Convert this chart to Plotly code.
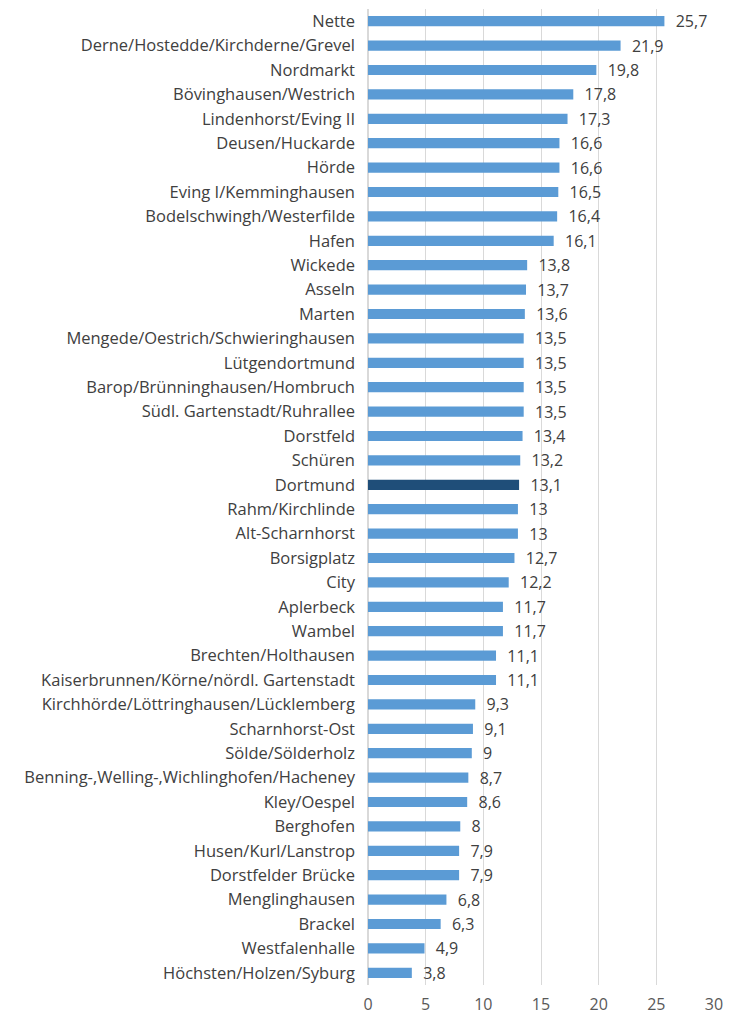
import plotly.graph_objects as go

districts = [
    "Nette", "Derne/Hostedde/Kirchderne/Grevel", "Nordmarkt", "Bövinghausen/Westrich",
    "Lindenhorst/Eving II", "Deusen/Huckarde", "Hörde", "Eving I/Kemminghausen",
    "Bodelschwingh/Westerfilde", "Hafen", "Wickede", "Asseln", "Marten",
    "Mengede/Oestrich/Schwieringhausen", "Lütgendortmund", "Barop/Brünninghausen/Hombruch",
    "Südl. Gartenstadt/Ruhrallee", "Dorstfeld", "Schüren", "Dortmund", "Rahm/Kirchlinde",
    "Alt-Scharnhorst", "Borsigplatz", "City", "Aplerbeck", "Wambel", "Brechten/Holthausen",
    "Kaiserbrunnen/Körne/nördl. Gartenstadt", "Kirchhörde/Löttringhausen/Lücklemberg",
    "Scharnhorst-Ost", "Sölde/Sölderholz", "Benning-,Welling-,Wichlinghofen/Hacheney",
    "Kley/Oespel", "Berghofen", "Husen/Kurl/Lanstrop", "Dorstfelder Brücke",
    "Menglinghausen", "Brackel", "Westfalenhalle", "Höchsten/Holzen/Syburg",
]
values = [
    25.7, 21.9, 19.8, 17.8, 17.3, 16.6, 16.6, 16.5, 16.4, 16.1, 13.8, 13.7, 13.6,
    13.5, 13.5, 13.5, 13.5, 13.4, 13.2, 13.1, 13.0, 13.0, 12.7, 12.2, 11.7, 11.7,
    11.1, 11.1, 9.3, 9.1, 9.0, 8.7, 8.6, 8.0, 7.9, 7.9, 6.8, 6.3, 4.9, 3.8,
]
highlight = "Dortmund"

labels = ["  " + f"{v:g}".replace(".", ",") for v in values]
colors = ["#1F4E79" if d == highlight else "#5B9BD5" for d in districts]

fig = go.Figure(go.Bar(
    x=values,
    y=districts,
    orientation="h",
    marker=dict(color=colors, line=dict(width=0)),
    text=labels,
    textposition="outside",
    constraintext="none",
    textfont=dict(size=16, color="#404040"),
    cliponaxis=False,
))

fig.update_layout(
    width=729,
    height=1016,
    margin=dict(l=368, r=15, t=9, b=31, autoexpand=False),
    paper_bgcolor="white",
    plot_bgcolor="white",
    bargap=0.58,
    showlegend=False,
    font=dict(family="Open Sans, Noto Sans, sans-serif", size=16, color="#404040"),
    xaxis=dict(
        range=[0, 30],
        tickvals=[0, 5, 10, 15, 20, 25, 30],
        showgrid=True,
        gridcolor="#D9D9D9",
        gridwidth=1,
        zeroline=True,
        zerolinecolor="#D9D9D9",
        showline=False,
        automargin=False,
        tickfont=dict(size=16, color="#595959"),
        ticks="",
        ticklabelstandoff=8,
    ),
    yaxis=dict(
        autorange="reversed",
        showgrid=False,
        automargin=False,
        ticks="",
        ticklabelstandoff=12,
        tickfont=dict(size=16.5, color="#404040"),
    ),
)

# drop the default 8px body margin so the figure fills the window exactly
fig.write_html(
    "out.html",
    config={"displayModeBar": False},
    post_script="document.body.style.margin = '0';",
)
